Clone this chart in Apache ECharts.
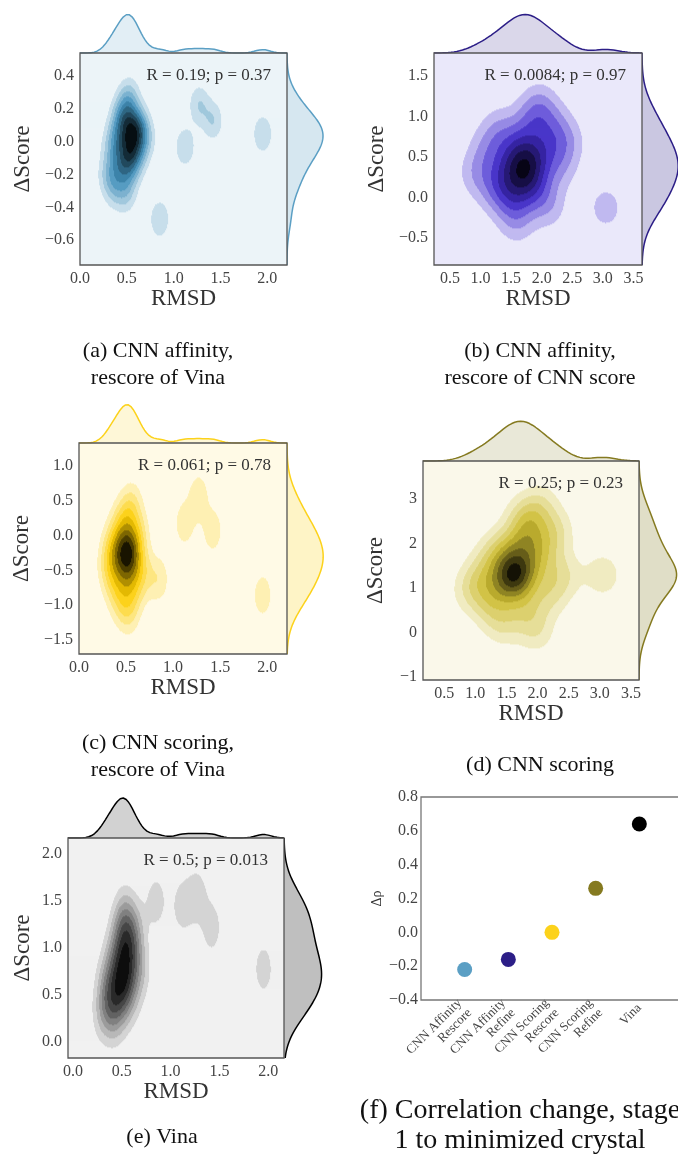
<!DOCTYPE html>
<html><head><meta charset="utf-8">
<script src="https://cdn.jsdelivr.net/npm/echarts@6/dist/echarts.min.js"></script>
<style>html,body{margin:0;padding:0;background:#fff;}#c{width:678px;height:1157px;}</style>
</head><body><div id="c"></div>
<script>
// ---------------- DATA ----------------
const rmsdVina = [0.30,0.34,0.37,0.40,0.42,0.44,0.47,0.48,0.49,0.50,0.52,0.53,0.54,0.56,0.57,0.59,0.61,0.64,0.69,0.85,1.12,1.27,1.42,1.95];
const dScoreAffinityVina = [-0.20,-0.03,-0.28,0.06,-0.14,0.15,-0.08,0.20,-0.31,0.04,-0.18,0.28,-0.01,0.10,-0.10,0.11,-0.06,0.09,0.02,-0.47,-0.03,0.23,0.13,0.05];
const dScoreScoringVina = [-0.45,-0.15,-0.70,-0.30,0.10,-0.95,-0.22,-0.35,0.30,-0.60,-0.18,-1.10,-0.05,-0.40,0.45,-0.80,-0.28,0.05,-0.55,-0.62,0.18,0.58,0.08,-0.85];
const dScoreVina = [0.30,0.62,0.42,0.85,0.25,0.55,1.05,0.70,0.40,1.25,0.90,0.60,1.38,0.78,1.12,0.50,0.95,1.20,0.75,1.50,1.45,1.57,1.22,0.78];
const rmsdCnn = [0.92,1.10,1.22,1.30,1.38,1.45,1.50,1.55,1.60,1.64,1.68,1.72,1.76,1.80,1.84,1.88,1.93,1.98,2.05,2.12,2.20,2.30,2.42,3.05];
const dScoreAffinityCnn = [0.30,0.60,0.10,0.85,0.30,-0.05,0.55,0.20,-0.30,0.40,0.75,0.05,0.45,0.30,1.00,0.50,0.15,1.15,0.65,-0.10,0.90,0.40,0.70,-0.12];
const dScoreScoringCnn = [0.95,1.30,0.60,1.75,1.00,0.20,1.40,1.95,1.15,1.20,1.60,1.25,2.60,0.55,2.00,2.35,1.45,0.05,2.85,1.85,0.85,2.30,1.30,1.30];

const statTexts = ['R = 0.19; p = 0.37','R = 0.0084; p = 0.97','R = 0.061; p = 0.78','R = 0.25; p = 0.23','R = 0.5; p = 0.013'];

const xTicksVina = [0.0,0.5,1.0,1.5,2.0];
const xTicksCnn = [0.5,1.0,1.5,2.0,2.5,3.0,3.5];
const yTicksA = [-0.6,-0.4,-0.2,0.0,0.2,0.4];
const yTicksB = [-0.5,0.0,0.5,1.0,1.5];
const yTicksC = [-1.5,-1.0,-0.5,0.0,0.5,1.0];
const yTicksD = [-1,0,1,2,3];
const yTicksE = [0.0,0.5,1.0,1.5,2.0];

const corrCategories = ['CNN Affinity\nRescore','CNN Affinity\nRefine','CNN Scoring\nRescore','CNN Scoring\nRefine','Vina'];
const corrChange = [-0.22,-0.16,0.00,0.26,0.64];
const corrTicks = [-0.4,-0.2,0.0,0.2,0.4,0.6,0.8];

const captions = [
  ['(a) CNN affinity,','rescore of Vina'],
  ['(b) CNN affinity,','rescore of CNN score'],
  ['(c) CNN scoring,','rescore of Vina'],
  ['(d) CNN scoring'],
  ['(e) Vina'],
  ['(f) Correlation change, stage','1 to minimized crystal']
];

// ---------------- layout / style ----------------
const FONT = '"Liberation Serif","DejaVu Serif",serif';
const colors = ['#5b9fc4','#2c1e87','#fcd21b','#857a20','#000000'];
const panels = [
  {L:80, T:53, W:207,H:212, xr:[0,2.21],   yr:[-0.752,0.542], xt:xTicksVina, yt:yTicksA, yd:1, xs:rmsdVina, ys:dScoreAffinityVina, yGap:46},
  {L:434,T:53, W:208,H:212, xr:[0.24,3.64],yr:[-0.83,1.78],   xt:xTicksCnn,  yt:yTicksB, yd:1, xs:rmsdCnn,  ys:dScoreAffinityCnn,  yGap:46},
  {L:79, T:443,W:208,H:211, xr:[0,2.21],   yr:[-1.70,1.33],   xt:xTicksVina, yt:yTicksC, yd:1, xs:rmsdVina, ys:dScoreScoringVina,  yGap:46},
  {L:423,T:461,W:216,H:219, xr:[0.16,3.63],yr:[-1.07,3.85],   xt:xTicksCnn,  yt:yTicksD, yd:0, xs:rmsdCnn,  ys:dScoreScoringCnn,   yGap:36},
  {L:68, T:838,W:216,H:220, xr:[-0.05,2.16],yr:[-0.17,2.17],  xt:xTicksVina, yt:yTicksE, yd:1, xs:rmsdVina, ys:dScoreVina,         yGap:34}
];
const capPos = [
  {x:158,y:[351,378],fs:22},{x:540,y:[351,378],fs:22},{x:158,y:[743,770],fs:22},{x:540,y:[765],fs:22},{x:162,y:[1137],fs:22},{x:520,y:[1111,1141],fs:28}
];

// ---------------- helpers ----------------
function sstd(a){const n=a.length,m=a.reduce((s,v)=>s+v,0)/n;return Math.sqrt(a.reduce((s,v)=>s+(v-m)*(v-m),0)/(n-1));}
function pct(a,q){const s=[...a].sort((x,y)=>x-y),p=q*(s.length-1),lo=Math.floor(p),hi=Math.ceil(p);return s[lo]+(s[hi]-s[lo])*(p-lo);}
function bwScott(a){const A=Math.min(sstd(a),(pct(a,.75)-pct(a,.25))/1.349);return 1.059*A*Math.pow(a.length,-0.2);}
function hex2rgb(h){return [1,3,5].map(i=>parseInt(h.substr(i,2),16)/255);}
function rgb2hls(r,g,b){const mx=Math.max(r,g,b),mn=Math.min(r,g,b),l=(mx+mn)/2;if(mx===mn)return[0,l,0];const d=mx-mn;const s=l<=0.5?d/(mx+mn):d/(2-mx-mn);let h;if(mx===r)h=((g-b)/d)%6;else if(mx===g)h=(b-r)/d+2;else h=(r-g)/d+4;h/=6;if(h<0)h+=1;return[h,l,s];}
function hls2rgb(h,l,s){if(s===0)return[l,l,l];const m2=l<=0.5?l*(1+s):l+s-l*s,m1=2*l-m2;const f=hh=>{hh=((hh%1)+1)%1;if(hh<1/6)return m1+(m2-m1)*hh*6;if(hh<0.5)return m2;if(hh<2/3)return m1+(m2-m1)*(2/3-hh)*6;return m1;};return[f(h+1/3),f(h),f(h-1/3)];}
function makeCmap(hex){
  const [r,g,b]=hex2rgb(hex);const [h,,s]=rgb2hls(r,g,b);
  const stops=[];for(let k=0;k<12;k++){stops.push(hls2rgb(h,1-k/11,s));}
  return t=>{t=Math.max(0,Math.min(1,t));const p=t*11,i=Math.min(10,Math.floor(p)),f=p-i;
    const c=stops[i].map((v,j)=>v+(stops[i+1][j]-v)*f);
    return 'rgb('+c.map(v=>Math.round(v*255)).join(',')+')';};
}
function rgba(hex,a){const c=hex2rgb(hex).map(v=>Math.round(v*255));return 'rgba('+c.join(',')+','+a+')';}
function niceLevels(zmin,zmax,nbins){
  const raw=(zmax-zmin)/nbins,scale=Math.pow(10,Math.floor(Math.log10(raw)));
  let step=10*scale;for(const s of [1,2,2.5,5,10]){if(s*scale>=raw*(1-1e-9)){step=s*scale;break;}}
  const lo=Math.floor(zmin/step+1e-9),hi=Math.ceil(zmax/step-1e-9);const lev=[];for(let i=lo;i<=hi;i++)lev.push(i*step);return lev;
}
function kde1(data,bw,grid){const n=data.length,c=1/(n*bw*Math.sqrt(2*Math.PI));return grid.map(g=>{let s=0;for(const v of data){const u=(g-v)/bw;s+=Math.exp(-0.5*u*u);}return s*c;});}
function linspace(a,b,n){const r=[];for(let i=0;i<n;i++)r.push(a+(b-a)*i/(n-1));return r;}
const fmt=d=>v=>(v<0?'\u2212':'')+Math.abs(v).toFixed(d);

// joint KDE -> horizontal runs of equal contour band
function jointRuns(p,cmap){
  const n=p.xs.length,bx=bwScott(p.xs),by=bwScott(p.ys);
  const nx=Math.round(p.W),ny=Math.round(p.H);
  const dx=(p.xr[1]-p.xr[0])/nx,dy=(p.yr[1]-p.yr[0])/ny;
  const KX=[],KY=[];
  for(let i=0;i<nx;i++){const x=p.xr[0]+(i+.5)*dx;KX.push(p.xs.map(v=>Math.exp(-0.5*((x-v)/bx)**2)));}
  for(let j=0;j<ny;j++){const y=p.yr[0]+(j+.5)*dy;KY.push(p.ys.map(v=>Math.exp(-0.5*((y-v)/by)**2)));}
  const c=1/(n*2*Math.PI*bx*by);const Z=[];let zmin=Infinity,zmax=-Infinity;
  for(let j=0;j<ny;j++){const row=new Float64Array(nx);const ky=KY[j];
    for(let i=0;i<nx;i++){const kx=KX[i];let s=0;for(let k=0;k<n;k++)s+=kx[k]*ky[k];s*=c;row[i]=s;if(s<zmin)zmin=s;if(s>zmax)zmax=s;}Z.push(row);}
  const lev=niceLevels(zmin,zmax,11);const nb=lev.length-1;
  const pal=[];for(let b=0;b<nb;b++){const mid=(lev[b]+lev[b+1])/2;pal.push(cmap((mid-lev[0])/(lev[nb]-lev[0])));}
  const band=z=>{let b=0;while(b<nb-1&&z>lev[b+1])b++;return b;};
  const runs=[];
  for(let j=0;j<ny;j++){const y0=p.yr[0]+j*dy,y1=y0+dy;let start=0,cur=band(Z[j][0]);
    for(let i=1;i<=nx;i++){const b=i<nx?band(Z[j][i]):-1;if(b!==cur){runs.push([p.xr[0]+start*dx,p.xr[0]+i*dx,y0,y1,cur]);start=i;cur=b;}}}
  return {runs,pal};
}

// ---------------- build option ----------------
const grids=[],xAxes=[],yAxes=[],series=[],graphics=[];
const G=o=>Object.assign({outerBoundsMode:'none',containLabel:false},o);
const tickStyle={fontFamily:FONT,fontSize:16,color:'#444'};
const nameStyle={fontFamily:FONT,fontSize:23,color:'#333'};
panels.forEach((p,k)=>{
  const col=colors[k],cmap=makeCmap(col);
  let gi=grids.length;
  grids.push(G({left:p.L,top:p.T,width:p.W,height:p.H,show:true,borderColor:'#555',borderWidth:1.3,backgroundColor:'transparent',z:10}));
  xAxes.push({gridIndex:gi,type:'value',min:p.xr[0],max:p.xr[1],name:'RMSD',nameLocation:'middle',nameGap:21,nameTextStyle:nameStyle,
    axisLine:{show:false},axisTick:{show:false},splitLine:{show:false},axisLabel:Object.assign({customValues:p.xt,formatter:fmt(1),margin:6},tickStyle)});
  yAxes.push({gridIndex:gi,type:'value',min:p.yr[0],max:p.yr[1],name:'\u0394Score',nameLocation:'middle',nameGap:p.yGap,nameTextStyle:nameStyle,
    axisLine:{show:false},axisTick:{show:false},splitLine:{show:false},axisLabel:Object.assign({customValues:p.yt,formatter:fmt(p.yd),margin:6},tickStyle)});
  const jr=jointRuns(p,cmap);
  series.push({type:'custom',xAxisIndex:gi,yAxisIndex:gi,clip:true,silent:true,animation:false,data:jr.runs,encode:{x:[0,1],y:[2,3]},
    renderItem:(params,api)=>{const a=api.coord([api.value(0),api.value(3)]),b=api.coord([api.value(1),api.value(2)]);
      return {type:'rect',shape:{x:a[0],y:a[1],width:b[0]-a[0]+0.4,height:b[1]-a[1]+0.4},style:{fill:jr.pal[api.value(4)]}};}});
  const mh=p.H/5,mw=p.W/5;
  // top marginal
  const gx=linspace(p.xr[0],p.xr[1],220),dxs=kde1(p.xs,bwScott(p.xs),gx);
  gi=grids.length;
  grids.push(G({left:p.L,top:p.T-mh,width:p.W,height:mh}));
  xAxes.push({gridIndex:gi,type:'value',min:p.xr[0],max:p.xr[1],show:false});
  yAxes.push({gridIndex:gi,type:'value',min:0,max:v=>v.max*1.1,show:false});
  series.push({type:'line',xAxisIndex:gi,yAxisIndex:gi,data:gx.map((x,i)=>[x,dxs[i]]),symbol:'none',clip:true,animation:false,silent:true,
    lineStyle:{color:col,width:1.5},areaStyle:{color:rgba(col,0.25)}});
  // right marginal
  const gy=linspace(p.yr[0],p.yr[1],220),dys=kde1(p.ys,bwScott(p.ys),gy);
  gi=grids.length;
  grids.push(G({left:p.L+p.W,top:p.T,width:mw,height:p.H}));
  xAxes.push({gridIndex:gi,type:'value',min:0,max:v=>v.max*1.15,show:false});
  yAxes.push({gridIndex:gi,type:'value',min:p.yr[0],max:p.yr[1],show:false});
  series.push({type:'custom',xAxisIndex:gi,yAxisIndex:gi,clip:true,silent:true,animation:false,
    data:gy.map((y,i)=>[dys[i],y]),
    renderItem:(params,api)=>{if(params.dataIndex!==0)return null;
      const pts=gy.map((y,i)=>api.coord([dys[i],y]));
      const b0=api.coord([0,gy[0]]),b1=api.coord([0,gy[gy.length-1]]);
      return {type:'group',children:[
        {type:'polygon',shape:{points:[b0].concat(pts,[b1])},style:{fill:rgba(col,0.25)}},
        {type:'polyline',shape:{points:pts},style:{stroke:col,lineWidth:1.5,fill:null}}]};}});
  graphics.push({type:'text',x:p.L+p.W-16,y:p.T+23,z:20,style:{text:statTexts[k],align:'right',verticalAlign:'middle',fontFamily:FONT,fontSize:17,fill:'#333'}});
});

// panel (f)
{
  const gi=grids.length;
  grids.push(G({left:421,top:797,width:262,height:203,show:true,borderColor:'#777',borderWidth:1.3,backgroundColor:'transparent',z:10}));
  xAxes.push({gridIndex:gi,type:'category',boundaryGap:false,data:[' '].concat(corrCategories,['  ']),
    axisLine:{show:false},axisTick:{show:false},splitLine:{show:false},
    axisLabel:{interval:0,rotate:45,margin:6,fontFamily:FONT,fontSize:13,lineHeight:14,color:'#444'}});
  yAxes.push({gridIndex:gi,type:'value',min:-0.4,max:0.8,name:'\u0394\u03c1',nameLocation:'middle',nameGap:37,
    nameTextStyle:{fontFamily:FONT,fontSize:14,color:'#333'},
    axisLine:{show:false},axisTick:{show:false},splitLine:{show:false},
    axisLabel:Object.assign({customValues:corrTicks,formatter:fmt(1),margin:3},tickStyle)});
  series.push({type:'scatter',xAxisIndex:gi,yAxisIndex:gi,symbolSize:15,animation:false,
    data:corrCategories.map((c,i)=>({value:[c,corrChange[i]],itemStyle:{color:colors[i],opacity:1}}))});
}

// captions
captions.forEach((lines,k)=>{
  lines.forEach((t,i)=>{graphics.push({type:'text',x:capPos[k].x,y:capPos[k].y[i],style:{text:t,align:'center',verticalAlign:'middle',fontFamily:FONT,fontSize:capPos[k].fs,fill:'#111'}});});
});

const chart=echarts.init(document.getElementById('c'),null,{renderer:'canvas'});
chart.setOption({animation:false,backgroundColor:'#fff',grid:grids,xAxis:xAxes,yAxis:yAxes,series:series,graphic:graphics});
</script></body></html>
